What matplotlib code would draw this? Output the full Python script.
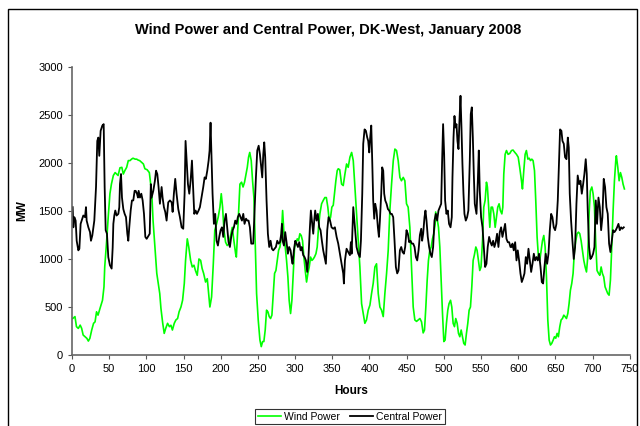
import matplotlib
matplotlib.use("Agg")
from matplotlib import pyplot as plt
from matplotlib.patches import Rectangle

plt.rcParams['font.family'] = ['Liberation Sans', 'DejaVu Sans']

# Values (hour, MW)
wind_hours = [1, 4, 6, 8.5, 11, 13, 15, 20, 22, 24, 26.5, 29, 31, 33, 35, 37.6, 41, 43, 44, 46.6,
              49, 51, 53, 55.6, 58, 60, 62, 64.5, 67, 69, 71, 73.5, 75.7, 78, 80, 82, 85, 87, 89, 91,
              96, 98, 101, 104, 105.5, 107.5, 109, 111.5, 114, 116, 118, 119.6, 122, 124, 126, 128.5,
              131, 133, 135, 137.5, 139.7, 142, 144, 146.5, 148.7, 151, 152.7, 155, 157, 159.5, 161.7,
              164, 166, 168.4, 170.7, 173, 175, 177, 179.6, 181.9, 183.7, 185.4, 187.7, 190, 192, 194.4,
              196.6, 198.9, 200.7, 202.5, 204.3, 206.5, 208.7, 211, 213.2, 215.5, 217.7, 220, 221, 223.5,
              225.8, 228, 230, 232, 234, 235.7, 237.4, 239, 241, 242.8, 244.6, 246.4, 248.2, 250.4,
              252.7, 254.5, 256.3, 258, 259.8, 261.6, 263.4, 265.2, 267, 268.8, 270.6, 272.4, 274.2, 276,
              277.8, 279.6, 281.4, 283.2, 285, 286.7, 288.5, 290.3, 292, 293.9, 295.7, 297.5, 299.3, 301,
              302.9, 304.6, 306.4, 308.2, 310, 311.8, 313.6, 315.4, 317.2, 319, 320.8, 322.6, 324.4, 326,
              328, 329.7, 331.5, 333.3, 335.6, 337.8, 340, 342, 344, 345.9, 347.7, 349.4, 351.3, 353,
              354.8, 356.6, 358, 360, 362.5, 364.7, 367, 369.2, 371.4, 373.7, 376, 378.2, 380.4, 382.6,
              384.9, 387.1, 389.4, 391.6, 393.8, 396, 398.3, 400.6, 402.8, 405, 407.3, 409.5, 411.8, 414,
              416.2, 418.5, 420.7, 423, 425.2, 427.4, 429.7, 432, 434.2, 436.4, 438.6, 440.9, 443, 445.4,
              447.6, 449.8, 452, 454.3, 456.6, 458.8, 461, 463.3, 465.5, 467.8, 470, 472.2, 474, 475.8,
              477.6, 479.3, 481.1, 483, 484.7, 486.5, 488.3, 489, 491, 492.8, 494.6, 496.4, 498.2, 500,
              501.7, 503.5, 505.3, 507, 509, 510.7, 512.5, 514.3, 516, 517.9, 519.7, 521.5, 523.3, 525,
              526.8, 528.6, 530.4, 532.2, 534, 535.8, 537.6, 539.4, 541, 543, 544.7, 546.5, 548.3, 550,
              552, 553.7, 555.5, 557.3, 558.6, 560, 561.8, 563.6, 565.4, 567.2, 569, 570.7, 572.5, 574.3,
              576, 578, 579.3, 580.6, 582.4, 584.2, 586.4, 588.7, 591, 593, 595.5, 597.7, 600, 602,
              604.4, 605.7, 607.5, 609.3, 611, 613, 614.8, 616.5, 618.3, 620, 621.9, 623.6, 625.4, 627.2,
              629, 630.8, 632.6, 634.4, 636.2, 638, 639.8, 641.6, 643.4, 645.1, 647, 648.7, 650.5, 652.3,
              654, 655.9, 657.7, 659.5, 661.3, 663, 664.9, 666.7, 668.4, 670.2, 672, 673.8, 675.6, 677.4,
              679.2, 681, 682.8, 684.6, 686.4, 688.2, 690, 691.8, 693.5, 695.3, 697, 699, 700.7, 702.5,
              704.3, 706, 708, 709.7, 711.5, 713.2, 715, 716.8, 718.6, 720.4, 722.2, 724, 725.8, 727.6,
              729.4, 731.2, 732, 733.9, 735.7, 737.5, 739.3, 741, 742.8]
wind_mw = [380, 400, 295, 277, 311, 277, 208, 173, 145, 173, 260, 330, 345, 450, 415, 484, 570, 710, 917, 1190,
           1470, 1680, 1780, 1870, 1900, 1885, 1870, 1950, 1955, 1885, 1920, 1955, 2025, 2025, 2040, 2050, 2040, 2040, 2030, 2025,
           1990, 1940, 1930, 1900, 1800, 1650, 1400, 1125, 850, 745, 640, 485, 330, 225, 277, 330,
           295, 310, 260, 330, 365, 380, 450, 500, 570, 745, 985, 1210, 1125, 985, 917,
           935, 880, 830, 1000, 985, 900, 850, 760, 795, 640, 500, 605, 950, 1300, 1366,
           1436, 1540, 1680, 1540, 1300, 1175, 1140, 1160, 1245, 1330, 1190, 1055, 1020, 1400,
           1780, 1800, 1750, 1800, 1885, 1955, 2060, 2110, 2025, 1815, 1640, 1160, 640, 365,
           155, 87, 140, 140, 260, 467, 450, 400, 380, 415, 640, 850, 880, 985,
           1090, 1125, 1230, 1505, 1263, 1125, 985, 813, 570, 432, 570, 850, 1125, 1160,
           1210, 1190, 1263, 1245, 1190, 1020, 880, 760, 850, 917, 1020, 985, 1000, 1020,
           1055, 1125, 1330, 1470, 1575, 1610, 1640, 1640, 1540, 1400, 1436, 1540, 1560, 1680,
           1815, 1920, 1940, 1930, 1780, 1765, 1885, 1990, 1955, 2060, 2110, 2025, 1750, 1470,
           1190, 917, 535, 432, 330, 365, 467, 520, 640, 745, 917, 950, 640, 500,
           467, 400, 640, 850, 1090, 1505, 1780, 2025, 2145, 2130, 2025, 1850, 1815, 1850,
           1815, 1575, 1540, 1330, 917, 500, 365, 350, 365, 380, 345, 230, 260, 500,
           780, 985, 1090, 1125, 1210, 1263, 1366, 1490, 1420, 1330, 1125, 780, 432, 140,
           155, 330, 467, 535, 570, 500, 330, 295, 380, 330, 225, 190, 260, 190,
           121, 104, 225, 330, 467, 500, 710, 985, 1040, 1125, 1090, 985, 880, 917,
           1190, 1540, 1610, 1800, 1750, 1575, 1330, 1540, 1540, 1470, 1330, 1436, 1540, 1575,
           1505, 1470, 1540, 1885, 2090, 2130, 2090, 2100, 2130, 2135, 2110, 2090, 2060, 1955,
           1815, 1730, 1920, 2090, 2130, 2040, 2050, 2025, 2040, 2025, 1920, 1610, 1230, 1020,
           985, 1090, 1190, 1245, 1125, 813, 365, 155, 104, 121, 155, 190, 175, 225,
           190, 295, 365, 380, 415, 400, 380, 432, 535, 675, 745, 850, 1090, 1190,
           1263, 1280, 1263, 1190, 1090, 985, 917, 865, 1020, 1470, 1710, 1750, 1680, 1540,
           1160, 880, 850, 830, 917, 850, 813, 710, 675, 640, 623, 780, 1125, 1505,
           1815, 2025, 2075, 1955, 1815, 1900, 1850, 1780, 1730]

central_hours = [0.9, 1.8, 3.1, 4.9, 6.3, 8.5, 9.9, 11.6, 13, 15.2, 17.5, 18.8, 19.7, 22, 24.2, 25.5, 27.3,
                 28.7, 30, 32.3, 34, 35.4, 36.7, 38.5, 40.8, 42.6, 43.9, 45.3, 47, 48.8, 51, 53.3, 54.7,
                 55.6, 56.9, 58.2, 60, 62.3, 63.6, 64.5, 65.9, 67.2, 69, 70.8, 72.6, 74.4, 75.7, 77, 78.9,
                 80.6, 82.4, 84.2, 85.6, 87.4, 88.7, 89.6, 91.4, 93.2, 95, 96.8, 98.6, 100.4, 103, 104.5,
                 106, 107, 109.3, 111.5, 113, 114.7, 116.4, 118.2, 120.5, 121.8, 123.6, 125.4, 127.2, 129.4,
                 131.7, 134, 135.3, 137, 138.8, 140.6, 142.9, 145.1, 147.4, 149.6, 151.4, 152.7, 154.1,
                 155.9, 157.7, 159.5, 161.3, 163, 164.4, 166.2, 168, 170.2, 172, 174.2, 176.5, 178.3, 180,
                 181.9, 183.7, 185, 186.3, 187.7, 189, 190.8, 192.6, 194.4, 196.2, 198, 199.8, 201.6, 203.4,
                 205.2, 207, 208.7, 210.5, 212.3, 214.1, 216, 217.7, 219.5, 221.3, 223, 224.9, 226.7, 228.5,
                 230.3, 232, 234, 235.7, 237.4, 239.2, 241, 243.7, 245.5, 247.3, 249.1, 251, 252.7, 254.5,
                 255.8, 257.2, 258.5, 259.8, 261.6, 263.4, 265.2, 267, 268.8, 270.6, 272.4, 274.2, 276,
                 277.8, 279.6, 281.4, 282.3, 283.2, 285, 286.7, 288.5, 290.3, 292, 293.9, 295.7, 296.6,
                 298.4, 300.2, 302, 303.8, 305.6, 307.4, 309, 310.9, 312.7, 314.5, 316.3, 318, 319.9, 321.2,
                 322.6, 324.4, 325.7, 327, 328.8, 330.6, 332.4, 334.2, 336, 337.8, 339.6, 341.4, 343.2, 345,
                 347, 349, 351.3, 353.5, 355.8, 358, 360.2, 362.5, 364.7, 365.6, 367, 369.2, 371.4, 373.7,
                 375, 376, 378.2, 380.4, 382.6, 384.9, 387.1, 388.5, 390.3, 391.6, 393.4, 395.2, 397, 398.3,
                 399.7, 401, 402.4, 403.7, 405, 406.4, 407.7, 409.5, 411.3, 412.7, 414, 415.8, 417.1, 418.5,
                 419.8, 421.2, 423, 424.8, 426.5, 428.3, 430, 431.9, 433.7, 435.5, 437.3, 439, 440.9, 442.7,
                 444.5, 446.3, 448, 449.8, 451.6, 453.4, 455.2, 457, 458.8, 460.6, 462.4, 464.2, 466, 467.8,
                 469.6, 470.8, 472.2, 474, 475.3, 476.7, 478.4, 480.2, 482, 483.8, 485.6, 487.4, 489.2, 491,
                 492.8, 494.6, 496.4, 497.7, 499, 500.4, 501.7, 503.5, 505.3, 507, 509, 510.7, 511.6, 513,
                 514.3, 515.6, 517, 518.3, 519.7, 521, 522.4, 523.7, 525, 526.4, 527.7, 529.5, 531.3, 533,
                 534.9, 536.2, 537.6, 539, 540.3, 541.6, 543.9, 545.7, 547, 548.3, 550.1, 552, 553.7, 555.5,
                 557.3, 559, 560.9, 562.7, 564.5, 566.3, 568, 569.8, 571.6, 573.4, 575.2, 577, 578.8, 580.6,
                 582.4, 584.2, 586, 587.8, 589.6, 591, 592.3, 594, 595.9, 597.7, 599.4, 601.2, 603, 604.8,
                 606.6, 608.4, 610.2, 612, 613.8, 615.6, 617.4, 619.2, 621, 622.7, 624.5, 626.3, 628, 630,
                 631.7, 633.5, 635.3, 637, 638.9, 640.7, 642.5, 644.3, 646, 647.8, 649.6, 651.4, 653.2, 655,
                 656.3, 658.1, 659.5, 661.3, 663, 664.9, 666.7, 668, 669.3, 671.1, 672.9, 674.7, 676.5,
                 678.3, 680, 681.9, 683.7, 685.5, 687.3, 689, 690.8, 692.2, 693.5, 695.3, 697.1, 698.9,
                 700.7, 702.5, 704.3, 706, 707.9, 709.7, 711.5, 713.2, 715, 716.8, 718.6, 720.4, 722.2, 724,
                 725.8, 727.6, 729.4, 731.2, 733, 734.8, 736.6, 738.4, 740, 742]
central_mw = [1540, 1330, 1436, 1400, 1190, 1090, 1107, 1366, 1400, 1453, 1436, 1540, 1400, 1330, 1280, 1190, 1245,
              1330, 1400, 1750, 2230, 2265, 2075, 2335, 2390, 2405, 1750, 1300, 1263, 1020, 935, 900, 1120,
              1366, 1453, 1505, 1453, 1470, 1540, 1780, 1885, 1640, 1520, 1470, 1436, 1263, 1190, 1330, 1505,
              1610, 1610, 1710, 1710, 1680, 1640, 1710, 1640, 1680, 1610, 1470, 1230, 1210, 1245, 1263,
              1780, 1640, 1710, 1815, 1920, 1885, 1750, 1575, 1750, 1640, 1540, 1490, 1400, 1590,
              1610, 1590, 1490, 1680, 1835, 1680, 1520, 1436, 1330, 1315, 1680, 2230, 2025,
              1780, 1680, 1815, 2025, 1710, 1470, 1505, 1470, 1505, 1540, 1640, 1750, 1850, 1835,
              1920, 2025, 2130, 2420, 2025, 1680, 1366, 1470, 1190, 1140, 1230, 1300, 1330, 1230,
              1400, 1470, 1330, 1175, 1125, 1230, 1300, 1330, 1400, 1366, 1436, 1470, 1436, 1400,
              1470, 1366, 1420, 1400, 1400, 1330, 1160, 1160, 1505, 1850, 2130, 2180, 2090, 1955,
              1850, 2090, 2215, 2060, 1610, 1263, 1125, 1190, 1107, 1090, 1107, 1125, 1190,
              1160, 1175, 1263, 1366, 1190, 1140, 1280, 1175, 1055, 1125, 1090, 985, 950,
              1090, 1190, 1160, 1125, 1175, 1090, 1125, 1040, 1020, 985, 865, 1020, 1330, 1505,
              1400, 1263, 1400, 1505, 1400, 1470, 1330, 1300, 1190, 1090, 1020, 950, 1300, 1436,
              1400, 1330, 1315, 1330, 1230, 1160, 1055, 950, 850, 745, 985, 1107, 1072, 1040,
              1175, 1055, 1540, 1330, 1125, 1055, 1020, 1190, 1680, 2200, 2350, 2335, 2265, 2230,
              2110, 2265, 2390, 2025, 1610, 1420, 1575, 1505, 1330, 1230, 1400, 1680, 1955, 1920,
              1680, 1610, 1575, 1520, 1505, 1470, 1470, 1436, 1190, 917, 850, 880, 1090, 1125,
              1072, 1055, 1125, 1300, 1263, 1175, 1190, 1160, 1160, 1125, 1020, 985, 1090, 1250,
              1315, 1190, 1263, 1436, 1505, 1400, 1230, 1125, 1055, 1020, 1125, 1400, 1470, 1400,
              1505, 1540, 1575, 2025, 2405, 2090, 1610, 1470, 1505, 1366, 1330, 1436, 1850, 2265,
              2490, 2370, 2405, 2230, 2145, 2440, 2700, 2370, 1990, 1680, 1470, 1400, 1436, 1505,
              2025, 2510, 2580, 2265, 1885, 1575, 1470, 1815, 2130, 1710, 1436, 1330, 1125, 917,
              950, 1125, 1230, 1175, 1140, 1190, 1125, 1175, 1263, 1125, 1280, 1330, 1230, 1300,
              1366, 1210, 1175, 1175, 1125, 1125, 1160, 1090, 1175, 985, 1090, 985, 850, 760,
              800, 850, 1020, 950, 1107, 985, 865, 950, 1055, 985, 1020, 985, 1055, 917,
              760, 745, 917, 1055, 950, 1055, 1300, 1470, 1436, 1330, 1300, 1366, 1610, 2025,
              2350, 2335, 2230, 2200, 2060, 2040, 2265, 2160, 1680, 1400, 1190, 1000, 1125,
              1575, 1870, 1780, 1815, 1680, 1780, 1885, 2040, 1885, 1505, 1125, 1000, 1020,
              1055, 1125, 1610, 1366, 1640, 1540, 1300, 1436, 1835, 1750, 1540, 1470, 1160, 1072,
              1190, 1300, 1280, 1300, 1330, 1366, 1300, 1330, 1315, 1330]

x_ticks = list(range(0, 751, 50))
y_ticks = list(range(0, 3001, 500))

fig = plt.figure(figsize=(6.4, 4.26), dpi=100)
ax = fig.add_axes([0.1125, 0.1667, 0.8715, 0.676])

ax.plot(wind_hours, wind_mw, color='#00ff00', linewidth=1.2, label='Wind Power')
ax.plot(central_hours, central_mw, color='black', linewidth=1.3, label='Central Power')

ax.set_xlim(0, 750)
ax.set_ylim(0, 3000)
ax.set_xticks(x_ticks)
ax.set_yticks(y_ticks)
ax.tick_params(labelsize=8, length=3, direction='out', color='#555555')
for side in ['top', 'right']:
    ax.spines[side].set_visible(False)
for side in ['left', 'bottom']:
    ax.spines[side].set_color('#666666')
    ax.spines[side].set_linewidth(1.2)

ax.set_xlabel('Hours', fontsize=8.5, fontweight='bold', labelpad=8)
ax.set_ylabel('MW', fontsize=8.5, fontweight='bold')
ax.yaxis.set_label_coords(-0.078, 0.5)

fig.text(0.5125, 1 - 30 / 426, 'Wind Power and Central Power, DK-West, January 2008',
         ha='center', va='center', fontsize=10.5, fontweight='bold')

leg = fig.legend(loc='upper center', bbox_to_anchor=(0.547, 0.052), ncol=2, fontsize=7.5,
                 frameon=True, fancybox=False, edgecolor='black', handlelength=2.2,
                 handletextpad=0.3, columnspacing=1.0, borderpad=0.25)
leg.get_frame().set_linewidth(0.8)

# outer chart border
fig.patches.append(Rectangle((0.013, -0.02), 0.982, 0.999, transform=fig.transFigure,
                             fill=False, edgecolor='black', linewidth=1.0))

fig.savefig('out.png', dpi=100)
